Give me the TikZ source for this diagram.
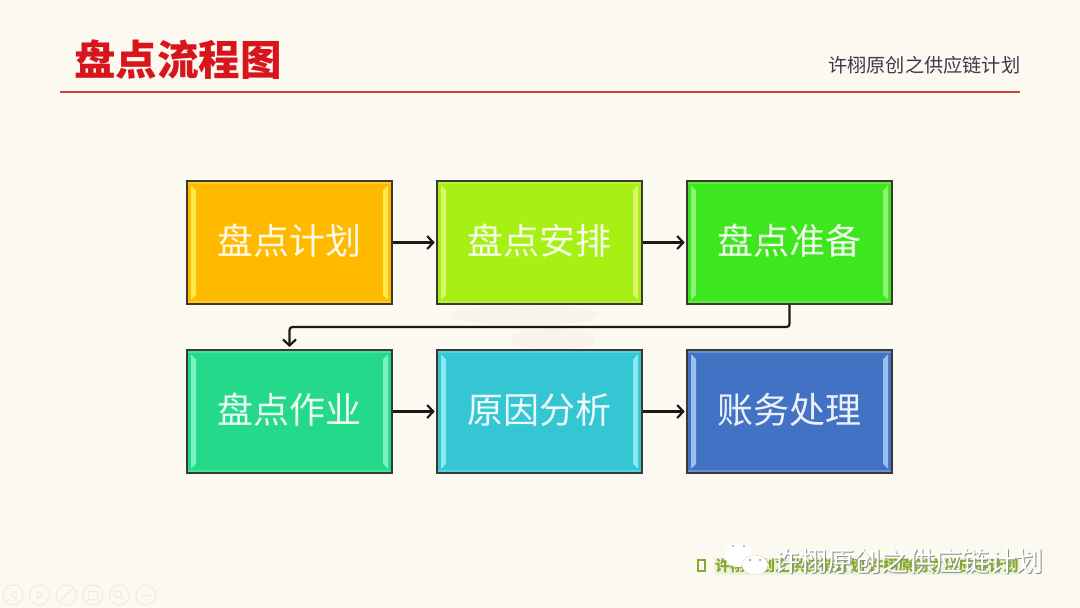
\documentclass[tikz,border=0pt]{standalone}
\usepackage{fontspec}
\setmainfont{Noto Sans CJK SC}
\usetikzlibrary{positioning, arrows.meta}

\definecolor{paper}{HTML}{FBF9F0}
\definecolor{titlered}{HTML}{D8141C}
\definecolor{rulered}{HTML}{C8433F}
\definecolor{headgray}{HTML}{3A3A48}
\definecolor{linedark}{HTML}{3C3A30}
\definecolor{footgreen}{HTML}{86A82E}
\definecolor{blush}{HTML}{FAF3EB}
\definecolor{planfill}{HTML}{FFBA00}
\definecolor{planedge}{HTML}{FFE84A}
\definecolor{arrangefill}{HTML}{A6F014}
\definecolor{arrangeedge}{HTML}{DAF86A}
\definecolor{preparefill}{HTML}{3EE61E}
\definecolor{prepareedge}{HTML}{8CF474}
\definecolor{workfill}{HTML}{24D98A}
\definecolor{workedge}{HTML}{78F2C2}
\definecolor{causefill}{HTML}{34C6D2}
\definecolor{causeedge}{HTML}{8AEAF2}
\definecolor{accountfill}{HTML}{4272C4}
\definecolor{accountedge}{HTML}{9CC0EE}

\tikzset{
    panel/.style = {draw = linedark, line width = 1.6pt, fill = #1fill,
        minimum width = 205pt, minimum height = 122.5pt, inner sep = 0pt,
        text = white!90!#1fill, font = \fontsize{36}{36}\selectfont,
        text height = 27pt, text depth = 3.6pt,
        path picture = {
            \coordinate (nw) at (path picture bounding box.north west);
            \coordinate (ne) at (path picture bounding box.north east);
            \coordinate (sw) at (path picture bounding box.south west);
            \coordinate (se) at (path picture bounding box.south east);
            \fill[#1edge, opacity = .4] (nw) rectangle ([shift = {(0pt, -3pt)}]ne);
            \fill[#1edge, opacity = .4] (sw) rectangle ([shift = {(0pt, 3pt)}]se);
            \fill[#1edge] ([shift = {(4pt, -4pt)}]nw) -- ([shift = {(9pt, -9pt)}]nw) -- ([shift = {(9pt, 9pt)}]sw) -- ([shift = {(4pt, 4pt)}]sw) -- cycle;
            \fill[#1edge] ([shift = {(-4pt, -4pt)}]ne) -- ([shift = {(-9pt, -9pt)}]ne) -- ([shift = {(-9pt, 9pt)}]se) -- ([shift = {(-4pt, 4pt)}]se) -- cycle;
        }},
    flow/.style = {draw = black!90, line width = 2.2pt, shorten > = 1.5pt, -{Straight Barb[length = 6pt, width = 13pt]}},
    navbtn/.style = {circle, draw = black!8, line width = 1pt, minimum size = 20pt, inner sep = 0pt},
    navmark/.style = {draw = black!8, line width = 1pt}
}

\begin{document}
\begin{tikzpicture}[x = 1pt, y = -1pt, node distance = 43.4pt]
    \fill[paper] (0, 0) rectangle (1080, 608);
    \useasboundingbox (0, 0) rectangle (1080, 608);

    % faint mark behind the panels
    \fill[blush] (526, 315) ellipse [x radius = 74pt, y radius = 10pt];
    \fill[blush] (553, 339) ellipse [x radius = 42pt, y radius = 11pt];

    % header
    \node[font = \fontsize{41.5}{41.5}\selectfont\bfseries, text = titlered, anchor = west, inner sep = 0pt] (title) at (74, 60) {盘点流程图};
    \node[font = \fontsize{19.2}{19.2}\selectfont, text = headgray, anchor = east, inner sep = 0pt] (brand) at (1020.5, 65) {许栩原创之供应链计划};
    \coordinate (ruleleft) at (60, 92);
    \coordinate (ruleright) at (1020, 92);
    \draw[rulered, line width = 1.3pt] (ruleleft) -- (ruleright);

    % first row
    \node[panel = plan] (plan) at (289.5, 242.5) {盘点计划};
    \node[panel = arrange, right = of plan] (arrange) {盘点安排};
    \node[panel = prepare, right = of arrange] (prepare) {盘点准备};

    % second row
    \node[panel = work] (work) at (289.5, 411.5) {盘点作业};
    \node[panel = cause, right = of work] (cause) {原因分析};
    \node[panel = account, right = of cause] (account) {账务处理};

    \draw[flow] (plan) -- (arrange);
    \draw[flow] (arrange) -- (prepare);
    \draw[flow, shorten > = 2.5pt, rounded corners = 3pt] (prepare.south) |- (work.north |- 0, 327) -- (work.north);
    \draw[flow] (work) -- (cause);
    \draw[flow] (cause) -- (account);

    % footer
    \foreach \i in {0, ..., 5} {
        \node[navbtn] (nav\i) at (13 + 26.6*\i, 595) {};
    }
    \draw[navmark] (16, 591) -- (11, 595) -- (16, 599) -- cycle;
    \draw[navmark] (37, 591) -- (42, 595) -- (37, 599) -- cycle;
    \draw[navmark] (61, 600) -- (71, 590);
    \draw[navmark] (88, 591) rectangle (97, 599);
    \draw[navmark] (118, 594) circle [radius = 3.5pt] (121, 597) -- (124, 600);
    \draw[navmark] (141, 595) -- (151, 595);

    \fill[footgreen!15] (714, 558) rectangle (1020, 575);
    \draw[footgreen, line width = 1.4pt] (698, 560) rectangle (705, 571);
    \node[font = \fontsize{15}{15}\selectfont\bfseries, text = footgreen, anchor = west, inner sep = 0pt] (foot) at (715, 565.5) {许栩原创之供应链计划 许栩原创之供应链计划};
    \fill[white] (738, 555) ellipse [x radius = 13.5pt, y radius = 12pt];
    \fill[black!50] (733, 546) circle [radius = .9pt] (744, 546) circle [radius = .9pt];
    \fill[white, draw = black!15] (755, 565) ellipse [x radius = 13pt, y radius = 10pt];
    \fill[black!50] (750, 560) circle [radius = 1pt] (760, 560) circle [radius = 1pt];
    \node[font = \fontsize{27}{27}\selectfont, text = black!45, anchor = east, inner sep = 0pt] (markshade) at (1044.5, 562) {许栩原创之供应链计划};
    \node[font = \fontsize{27}{27}\selectfont, text = white, anchor = east, inner sep = 0pt] (mark) at (1043.5, 561) {许栩原创之供应链计划};
\end{tikzpicture}
\end{document}
